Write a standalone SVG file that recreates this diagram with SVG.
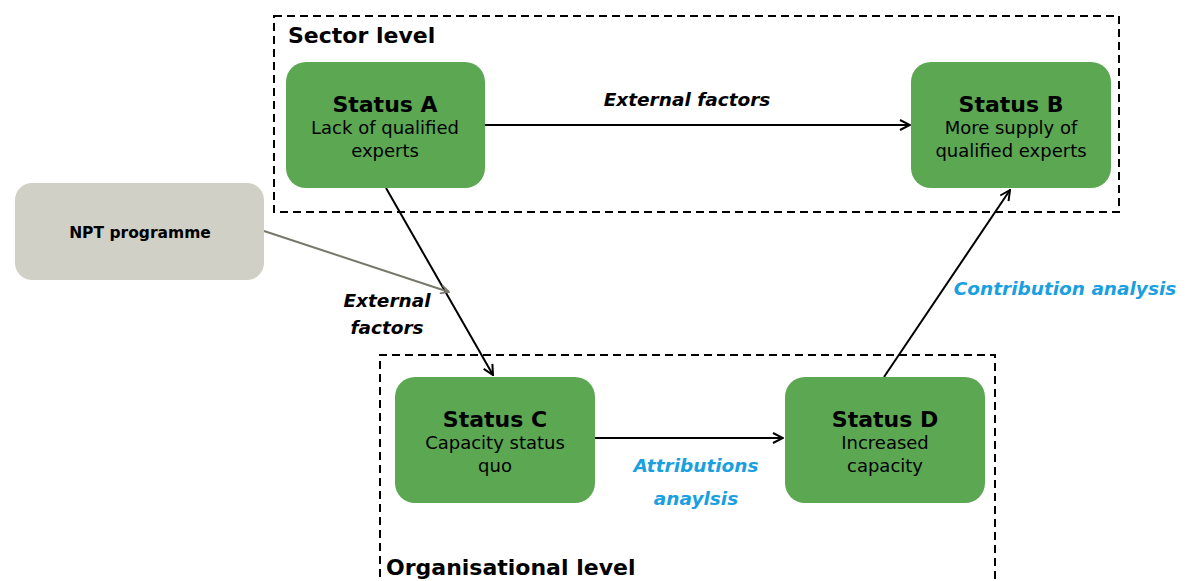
<svg xmlns="http://www.w3.org/2000/svg" width="1186" height="581" viewBox="0 0 1186 581">
<defs>
<style>
.frame{fill:none;stroke:#000;stroke-width:2;stroke-dasharray:8 5}
.status{fill:#5ca752}
.npt{fill:#d0d0c6}
.t{font-family:"DejaVu Sans",Verdana,sans-serif;text-anchor:middle;fill:#000}
.title{font-size:22px;font-weight:bold}
.body{font-size:18px}
.lvl{font-family:"DejaVu Sans",Verdana,sans-serif;font-size:22px;font-weight:bold;fill:#000}
.lbl{font-family:"DejaVu Sans",Verdana,sans-serif;font-size:18.5px;font-weight:bold;font-style:italic;text-anchor:middle}
.blue{fill:#1a9fe0}
.conn{fill:none;stroke:#000;stroke-width:2}
.gray{stroke:#77776a}
</style>
<marker id="ah" viewBox="0 0 12 12" refX="11" refY="6" markerWidth="12" markerHeight="12" markerUnits="userSpaceOnUse" orient="auto">
<path d="M1,1 L11,6 L1,11" fill="none" stroke="#000" stroke-width="2"/>
</marker>
<marker id="ahg" viewBox="0 0 12 12" refX="11" refY="6" markerWidth="10" markerHeight="10" markerUnits="userSpaceOnUse" orient="auto">
<path d="M1,1 L11,6 L1,11" fill="none" stroke="#77776a" stroke-width="2"/>
</marker>
</defs>
<rect width="1186" height="581" fill="#fff"/>
<g id="sector-level">
<rect class="frame" x="274" y="16" width="845" height="196"/>
<text class="lvl" x="288" y="43">Sector level</text>
</g>
<g id="organisational-level">
<path class="frame" d="M380,590 V355 H995 V590"/>
<text class="lvl" x="386" y="575">Organisational level</text>
</g>
<g id="connectors">
<line class="conn" x1="485" y1="125" x2="910" y2="125" marker-end="url(#ah)"/>
<line class="conn" x1="386" y1="188" x2="493" y2="375" marker-end="url(#ah)"/>
<line class="conn gray" x1="264" y1="231" x2="449" y2="292" marker-end="url(#ahg)"/>
<line class="conn" x1="595" y1="438" x2="783" y2="438" marker-end="url(#ah)"/>
<line class="conn" x1="884" y1="377" x2="1010" y2="190" marker-end="url(#ah)"/>
<text class="lbl" x="687" y="106">External factors</text>
<text class="lbl" x="387" y="307">External</text>
<text class="lbl" x="387" y="334">factors</text>
<text class="lbl blue" x="696" y="472">Attributions</text>
<text class="lbl blue" x="696" y="505">anaylsis</text>
<text class="lbl blue" x="1065" y="295">Contribution analysis</text>
</g>
<g id="status-a">
<rect class="status" x="286" y="62" width="199" height="126" rx="20"/>
<text class="t title" x="385" y="112">Status A</text>
<text class="t body" x="385" y="134">Lack of qualified</text>
<text class="t body" x="385" y="157">experts</text>
</g>
<g id="status-b">
<rect class="status" x="911" y="62" width="200" height="126" rx="20"/>
<text class="t title" x="1011" y="112">Status B</text>
<text class="t body" x="1011" y="134">More supply of</text>
<text class="t body" x="1011" y="157">qualified experts</text>
</g>
<g id="npt-programme">
<rect class="npt" x="15" y="183" width="249" height="97" rx="17"/>
<text class="t" x="140" y="238" style="font-size:15.5px;font-weight:bold">NPT programme</text>
</g>
<g id="status-c">
<rect class="status" x="395" y="377" width="200" height="126" rx="20"/>
<text class="t title" x="495" y="427">Status C</text>
<text class="t body" x="495" y="449">Capacity status</text>
<text class="t body" x="495" y="472">quo</text>
</g>
<g id="status-d">
<rect class="status" x="785" y="377" width="200" height="126" rx="20"/>
<text class="t title" x="885" y="427">Status D</text>
<text class="t body" x="885" y="449">Increased</text>
<text class="t body" x="885" y="472">capacity</text>
</g>
</svg>
